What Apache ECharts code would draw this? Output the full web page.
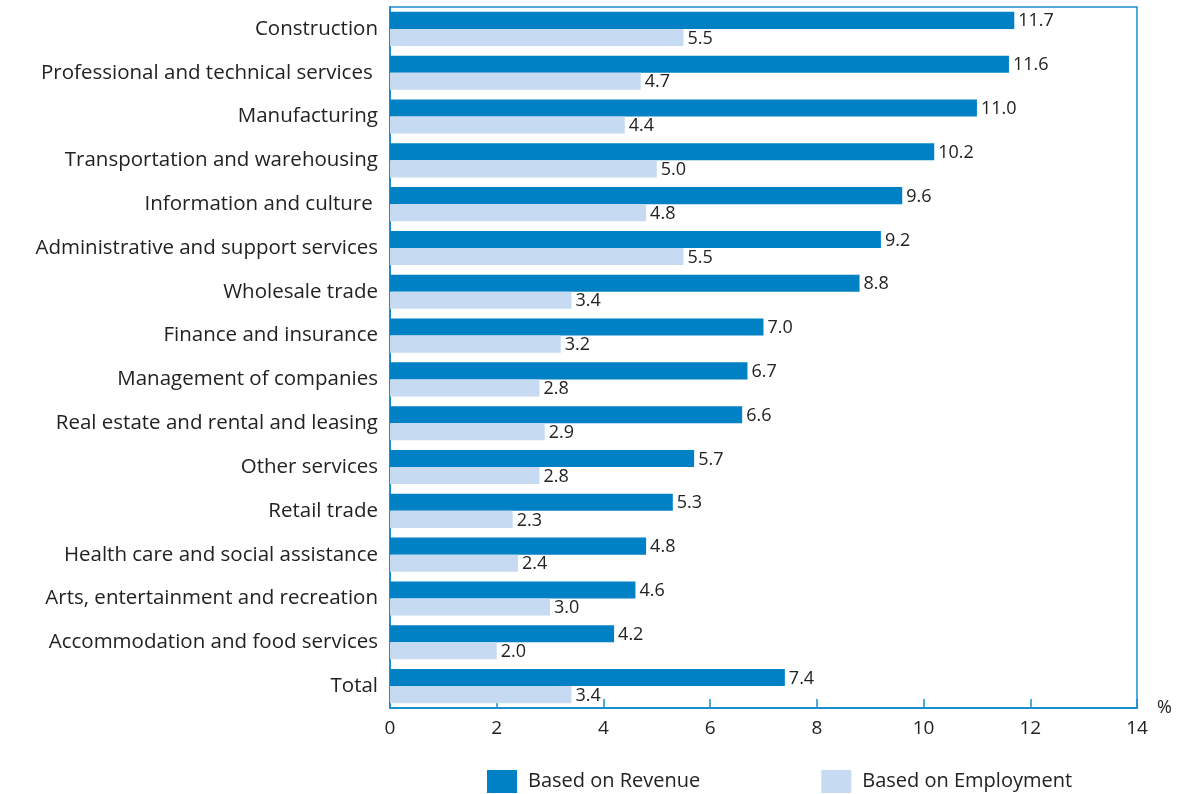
<!DOCTYPE html>
<html><head><meta charset="utf-8">
<script src="https://cdn.jsdelivr.net/npm/echarts@6/dist/echarts.min.js"></script>
<style>html,body{margin:0;padding:0;background:#fff}#c{width:1185px;height:794px}</style>
</head><body><div id="c"></div>
<script>
const categories = ["Construction","Professional and technical services ","Manufacturing","Transportation and warehousing","Information and culture ","Administrative and support services","Wholesale trade","Finance and insurance","Management of companies","Real estate and rental and leasing","Other services","Retail trade","Health care and social assistance","Arts, entertainment and recreation","Accommodation and food services","Total"];
const revenue = [11.7,11.6,11.0,10.2,9.6,9.2,8.8,7.0,6.7,6.6,5.7,5.3,4.8,4.6,4.2,7.4];
const employment = [5.5,4.7,4.4,5.0,4.8,5.5,3.4,3.2,2.8,2.9,2.8,2.3,2.4,3.0,2.0,3.4];
const seriesNames = ["Based on Revenue","Based on Employment"];
const FONT = "Open Sans";
const BLUE = "#0081c6", LIGHT = "#c6daf1", LINE = "#1a8fd0", TXT = "#222";
const chart = echarts.init(document.getElementById('c'));
const lbl = {show:true, position:'right', distance:4, offset:[0,1], color:TXT, fontFamily:FONT, fontSize:18, formatter:p=>p.value.toFixed(1)};
chart.setOption({
  animation:false,
  textStyle:{fontFamily:FONT},
  grid:{left:390,right:48,top:7,bottom:86,show:true,borderColor:LINE,borderWidth:1.5,containLabel:false},
  legend:{left:482,top:765,itemWidth:30,itemHeight:23,itemGap:121,icon:'rect',
    textStyle:{fontFamily:FONT,fontSize:20,color:TXT,padding:[0,0,0,6]}},
  xAxis:{type:'value',min:0,max:14,interval:2,name:'%',nameLocation:'end',nameGap:20,
    nameTextStyle:{fontFamily:FONT,fontSize:18,color:TXT,verticalAlign:'middle'},
    axisLine:{show:true,lineStyle:{color:LINE,width:2}},
    axisTick:{show:true,inside:true,length:9,lineStyle:{color:LINE,width:1.5}},
    splitLine:{show:false},
    axisLabel:{fontFamily:FONT,fontSize:19,color:TXT,margin:11}},
  yAxis:{type:'category',data:categories,inverse:true,
    axisLine:{show:true,lineStyle:{color:LINE,width:2}},axisTick:{show:false},
    axisLabel:{fontFamily:FONT,fontSize:20.5,color:TXT,margin:12}},
  series:[
    {name:seriesNames[0],type:'bar',data:revenue,itemStyle:{color:BLUE},barGap:'0%',barCategoryGap:'22%',label:lbl},
    {name:seriesNames[1],type:'bar',data:employment,itemStyle:{color:LIGHT},label:lbl}
  ]
});
</script></body></html>
